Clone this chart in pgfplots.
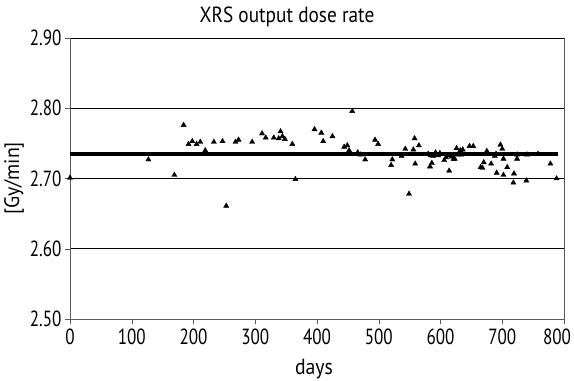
\documentclass[border=0pt]{standalone}
\usepackage{pgfplots}
\pgfplotsset{compat=1.18}
\usepackage{graphicx}
\usepackage{fontspec}
\setmainfont{PT Sans}
\newcommand\tl[1]{\scalebox{0.78}[1]{#1}}
\begin{document}
\begin{tikzpicture}
\path[use as bounding box] (-70bp,-62bp) rectangle (504bp,319bp);
\begin{axis}[
  at={(0,0)}, anchor=south west,
  scale only axis, width=494bp, height=281bp,
  xmin=0, xmax=800, ymin=2.5, ymax=2.9,
  xtick={0,100,...,800}, ytick={2.5,2.6,2.7,2.8,2.9},
  xticklabels={\tl{0},\tl{100},\tl{200},\tl{300},\tl{400},\tl{500},\tl{600},\tl{700},\makebox[14bp][r]{\tl{800}}},
  yticklabels={\tl{2.50},\tl{2.60},\tl{2.70},\tl{2.80},\tl{2.90}},
  tick align=outside, tick style={gray!70!black, thin},
  major tick length=5bp,
  axis x line*=bottom, axis y line*=left,
  axis line style={gray!70!black, line width=0.9pt},
  ymajorgrids, grid style={black, line width=0.7pt},
  tick label style={font=\fontsize{22}{24}\selectfont},
  xticklabel style={yshift=-1bp},
  title={\scalebox{0.88}[1]{XRS output dose rate}},
  title style={font={\fontsize{22}{24}\selectfont}, at={(axis description cs:0.5,1)}, anchor=base, yshift=10bp, xshift=-30bp},
  xlabel={\scalebox{0.9}[1]{days}},
  xlabel style={font={\fontsize{22}{24}\selectfont}, at={(axis description cs:0.5,0)}, anchor=base, yshift=-55bp, xshift=-3bp},
  ylabel={\scalebox{0.95}[1]{[Gy/min]}},
  ylabel style={font={\fontsize{21}{23}\selectfont}, at={(axis description cs:0,0.5)}, anchor=center, rotate=0, yshift=56bp},
  clip=false,
]
\draw[gray!70!black, line width=0.9pt] (axis cs:800,2.5) -- (axis cs:800,2.9);
\addplot[black, line width=3.5pt, no marks] coordinates {(0,2.735) (790,2.735)};
\addplot[only marks, mark=triangle*, mark size=3pt, black] coordinates {
(0,2.701) (127,2.727) (169,2.705) (184,2.776) (192,2.749) (198,2.753) (205,2.749) (211,2.752)
(219,2.740) (233,2.752) (247,2.753) (253,2.661) (268,2.752) (273,2.755)
(295,2.752) (311,2.764) (317,2.758) (330,2.758) (338,2.757) (341,2.767) (344,2.760) (348,2.756)
(360,2.749) (365,2.699) (396,2.770) (407,2.765) (410,2.753) (425,2.760) (457,2.796)
(444,2.745) (449,2.747) (452,2.740) (466,2.737) (471,2.734) (478,2.727) (494,2.755) (499,2.749)
(522,2.727) (520,2.719) (537,2.732) (543,2.742) (549,2.678)
(558,2.757) (565,2.747) (556,2.741) (559,2.721)
(580,2.735) (584,2.733) (588,2.732) (592,2.737) (596,2.733) (599,2.736) (586,2.722) (583,2.717)
(606,2.726) (609,2.730) (614,2.711) (613,2.733) (618,2.731) (621,2.728) (623,2.728) (626,2.743)
(629,2.734) (632,2.740) (634,2.734) (636,2.741) (647,2.746) (653,2.746)
(665,2.716) (668,2.715) (670,2.723) (675,2.739) (682,2.721) (688,2.732) (690,2.735) (691,2.708)
(697,2.748) (700,2.742) (702,2.728) (702,2.705) (708,2.716) (718,2.694) (719,2.707)
(724,2.734) (724,2.728) (739,2.697) (740,2.734) (758,2.735) (778,2.721) (788,2.700)
};
\end{axis}
\end{tikzpicture}
\end{document}
